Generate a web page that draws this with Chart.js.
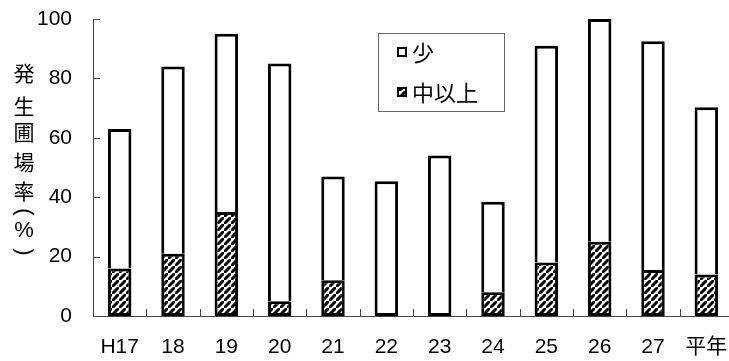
<!DOCTYPE html>
<html><head><meta charset="utf-8">
<script src="https://cdn.jsdelivr.net/npm/chart.js@4/dist/chart.umd.min.js"></script>
<style>
html,body{margin:0;padding:0;background:#fff;overflow:hidden;width:729px;height:361px;}
#wrap{width:729px;height:361px;overflow:hidden;position:relative;}
canvas{display:block;}
</style></head>
<body><div id="wrap"><canvas id="c" width="740" height="361"></canvas></div>
<script>
const categories = ['H17','18','19','20','21','22','23','24','25','26','27','平年'];
const severeValues = [16, 21, 35, 5, 12, 0, 0, 8, 18, 25, 15.5, 14];      // 中以上
const lightValues  = [47, 63, 60, 80, 35, 45.4, 54, 30.5, 73, 75, 77, 56.3]; // 少
const yTicks = [0, 20, 40, 60, 80, 100];
const yTitleChars = ['発','生','圃','場','率','(','%',')'];
const legendLabels = ['少', '中以上'];

const FONT = '"Liberation Sans", "Noto Sans CJK JP", sans-serif';
const CJK = '"Noto Sans CJK JP", sans-serif';

function makeHatch(){
  const s = 7;
  const p = document.createElement('canvas');
  p.width = s; p.height = s;
  const g = p.getContext('2d');
  g.fillStyle = '#fff'; g.fillRect(0,0,s,s);
  g.strokeStyle = '#000'; g.lineWidth = 3;
  g.beginPath();
  g.moveTo(-s, s*2); g.lineTo(s*2, -s);
  g.moveTo(-s*2, s); g.lineTo(s, -s*2);
  g.moveTo(0, s*3); g.lineTo(s*3, 0);
  g.stroke();
  return document.getElementById('c').getContext('2d').createPattern(p, 'repeat');
}
const hatch = makeHatch();

const decor = {
  id: 'decor',
  afterDraw(chart){
    const ctx = chart.ctx;
    const x = chart.scales.x, y = chart.scales.y;
    const area = chart.chartArea;
    ctx.save();
    ctx.strokeStyle = '#444'; ctx.lineWidth = 1;
    yTicks.forEach(v => {
      const py = Math.round(y.getPixelForValue(v)) + 0.5;
      ctx.beginPath(); ctx.moveTo(area.left, py); ctx.lineTo(area.left + 7, py); ctx.stroke();
    });
    for (let i = 0; i < categories.length - 1; i++){
      const px = Math.round((x.getPixelForValue(i) + x.getPixelForValue(i+1)) / 2) + 0.5;
      ctx.beginPath(); ctx.moveTo(px, area.bottom); ctx.lineTo(px, area.bottom - 7); ctx.stroke();
    }
    // vertical axis title
    ctx.fillStyle = '#000';
    ctx.textAlign = 'center'; ctx.textBaseline = 'middle';
    const ys = [73, 106, 132, 162, 191, 212, 231, 252];
    yTitleChars.forEach((ch, i) => {
      if (ch === '(' || ch === ')'){
        ctx.save();
        ctx.font = '22px ' + FONT;
        ctx.translate(24, ys[i]);
        ctx.rotate(Math.PI / 2);
        ctx.fillText(ch, 0, 0);
        ctx.restore();
      } else {
        ctx.font = (ch === '%' ? '22px ' + FONT : '21px ' + CJK);
        ctx.fillText(ch, 24, ys[i]);
      }
    });
    // legend
    ctx.strokeStyle = '#666'; ctx.lineWidth = 1;
    ctx.strokeRect(378.5, 33.5, 126, 78);
    const items = [
      {label: chart.data.datasets[1].label, fill: '#fff', y: 52},
      {label: chart.data.datasets[0].label, fill: hatch, y: 92}
    ];
    ctx.font = '22px ' + CJK;
    ctx.textAlign = 'left';
    items.forEach(it => {
      ctx.fillStyle = it.fill;
      ctx.fillRect(397, it.y - 5, 10, 10);
      ctx.strokeStyle = '#000'; ctx.lineWidth = 2;
      ctx.strokeRect(398, it.y - 4, 8, 8);
      ctx.fillStyle = '#000';
      ctx.fillText(it.label, 412, it.y + 1);
    });
    ctx.restore();
  }
};

new Chart(document.getElementById('c'), {
  type: 'bar',
  data: {
    labels: categories,
    datasets: [
      { label: legendLabels[1], data: severeValues, backgroundColor: hatch, borderColor: '#000',
        borderWidth: c => (severeValues[c.dataIndex] > 0 ? 3 : 0), borderSkipped: false },
      { label: legendLabels[0], data: lightValues, backgroundColor: '#fff', borderColor: '#000', borderWidth: 3,
        borderSkipped: c => (severeValues[c.dataIndex] > 0 ? 'bottom' : false) }
    ]
  },
  options: {
    responsive: false,
    animation: false,
    devicePixelRatio: 1,
    layout: { padding: { top: 19, right: 7, left: 0, bottom: 0 } },
    plugins: { legend: { display: false }, tooltip: { enabled: false }, title: { display: false } },
    datasets: { bar: { barPercentage: 0.44, categoryPercentage: 1.0 } },
    scales: {
      x: {
        stacked: true,
        grid: { display: false, drawTicks: false },
        border: { display: true, color: '#444', width: 1 },
        ticks: { color: '#000', font: { size: 21, family: FONT }, padding: 19, maxRotation: 0, autoSkip: false },
        afterFit(s){ s.height = 45; s.paddingLeft = 0; s.paddingRight = 0; }
      },
      y: {
        stacked: true,
        min: 0, max: 100,
        afterBuildTicks(s){ s.ticks = yTicks.map(v => ({value: v})); },
        grid: { display: false, drawTicks: false },
        border: { display: true, color: '#444', width: 1 },
        ticks: { color: '#000', font: { size: 21, family: FONT }, padding: 21 },
        afterFit(s){ s.width = 93; s.paddingTop = 0; s.paddingBottom = 0; }
      }
    }
  },
  plugins: [decor]
});
</script>
</body></html>
